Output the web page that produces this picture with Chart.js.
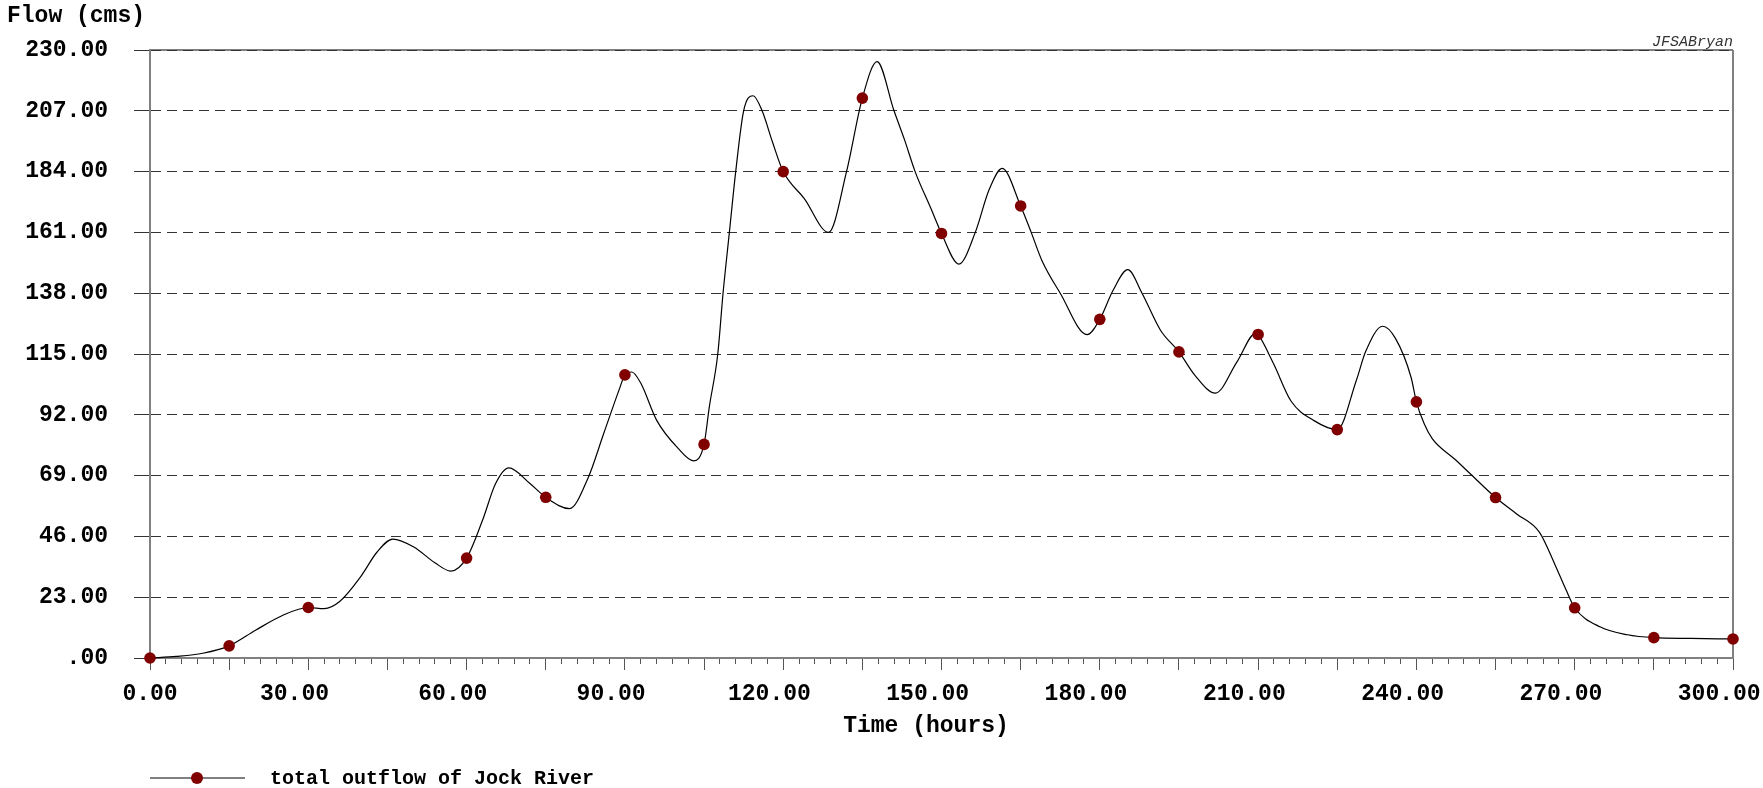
<!DOCTYPE html>
<html>
<head>
<meta charset="utf-8">
<script src="https://cdn.jsdelivr.net/npm/chart.js@4.4.1/dist/chart.umd.min.js"></script>
<style>
  html, body { margin: 0; padding: 0; background: #fff; }
  #wrap { width: 1763px; height: 788px; position: relative; }
</style>
</head>
<body>
<div id="wrap"><canvas id="chart" width="1763" height="788"></canvas></div>
<script>
// Simulated outflow hydrograph, Jock River (hours vs. cms)
const hours = [
  0, 5, 10, 15, 20, 25, 30, 33, 36, 40, 43, 46, 50, 54, 57, 60,
  63, 65.5, 68, 72, 75, 79.5, 83, 86, 89, 90, 91.3, 93, 96, 100, 103, 105,
  106, 107.6, 108.6, 109.8, 111, 112.5, 114.3, 116, 118, 120, 124, 128.6,
  132, 135, 137.8, 141, 143, 145, 148, 150, 153.3, 156.4, 159, 161.5,
  165, 167, 169, 172.5, 177.6, 180, 182.5, 185.3, 188, 191.5, 195, 198,
  201.9, 206, 209.6, 210, 213, 216.2, 220.6, 225, 228.6, 230.4, 233.6,
  236, 239, 240, 241.5, 243, 247.4, 250.3, 255, 259, 263.3, 266.2, 268.4, 270,
  274.9, 280, 285, 292, 300
];
const flow = [
  0, 0.6, 1.8, 4.6, 10.5, 16.0, 19.1, 18.7, 21.5, 31, 40, 45.0, 42, 36, 32.9, 37.8,
  52, 66, 71.9, 66, 60.8, 56.5, 68, 85, 102, 107.1, 108.2, 104, 90, 79.5, 74.6, 80.8,
  95, 115, 138, 161, 184, 207, 212.7, 207, 195, 184.0, 173.8, 161.0,
  184, 211.8, 225.6, 207, 196, 184, 170, 160.6, 149.0, 161, 177, 185.2,
  171.0, 161, 150.5, 138, 122.3, 128.1, 139, 146.9, 138, 124, 115.8, 107,
  100.2, 112, 123.0, 122.4, 111, 97.3, 89.8, 86.4, 104.9, 116, 125.5,
  121, 106.1, 96.9, 88.5, 83, 75, 69.5, 60.7, 54.5, 47.6, 35.6, 25.6, 19.0,
  11.7, 8.8, 7.7, 7.4, 7.2
];

const seriesName = 'total outflow of Jock River';
const yTitle = 'Flow (cms)';
const xTitle = 'Time (hours)';
const author = 'JFSABryan';

const markerEvery = 15;   // hours between plotted markers
const xMajorStep = 15;    // long tick marks
const xLabelStep = 30;    // labelled ticks
const xMinorStep = 3;     // short tick marks
const yStep = 23;
const xMin = 0, xMax = 300, yMin = 0, yMax = 230;

const FONT = '"Liberation Mono", "DejaVu Sans Mono", monospace';
const tickFont = { family: FONT, size: 23, weight: 'bold' };

// Frame, axis titles, signature and legend drawn around the plot
const decorations = {
  id: 'decorations',
  beforeDraw(chart) {
    const { ctx, chartArea: a } = chart;
    ctx.save();
    ctx.strokeStyle = '#808080';
    ctx.lineWidth = 2;
    ctx.beginPath();
    ctx.moveTo(a.left, a.top); ctx.lineTo(a.right, a.top);
    ctx.moveTo(a.right, a.top); ctx.lineTo(a.right, a.bottom);
    ctx.stroke();
    ctx.restore();
  },
  afterDraw(chart) {
    const { ctx, chartArea: a } = chart;
    const ds = chart.data.datasets[0];
    ctx.save();
    ctx.fillStyle = '#000';
    ctx.textBaseline = 'alphabetic';

    // y axis title, top-left
    ctx.font = 'bold 23px ' + FONT;
    ctx.textAlign = 'left';
    ctx.fillText(yTitle, 7, 22);

    // x axis title
    ctx.textAlign = 'center';
    ctx.fillText(xTitle, 926, 732);

    // signature above the top-right corner
    ctx.font = 'italic 15px ' + FONT;
    ctx.fillStyle = '#333';
    ctx.textAlign = 'right';
    ctx.fillText(author, a.right, 46);

    // legend: line with marker, then series name
    const ly = 778;
    ctx.strokeStyle = '#808080';
    ctx.lineWidth = 2;
    ctx.beginPath();
    ctx.moveTo(150, ly); ctx.lineTo(245, ly);
    ctx.stroke();
    ctx.fillStyle = ds.pointBackgroundColor;
    ctx.beginPath();
    ctx.arc(197, ly, 6, 0, Math.PI * 2);
    ctx.fill();
    ctx.fillStyle = '#000';
    ctx.font = 'bold 20px ' + FONT;
    ctx.textAlign = 'left';
    ctx.textBaseline = 'middle';
    ctx.fillText(seriesName, 270, ly + 1);
    ctx.restore();
  }
};

new Chart(document.getElementById('chart'), {
  type: 'line',
  data: {
    datasets: [{
      label: seriesName,
      data: hours.map((h, i) => ({ x: h, y: flow[i] })),
      xAxisID: 'x',
      yAxisID: 'y',
      borderColor: '#000',
      borderWidth: 1.2,
      cubicInterpolationMode: 'monotone',
      fill: false,
      clip: false,
      pointRadius: (c) => (hours[c.dataIndex] % markerEvery === 0 ? 5.8 : 0),
      pointHoverRadius: (c) => (hours[c.dataIndex] % markerEvery === 0 ? 5.8 : 0),
      pointBackgroundColor: '#800000',
      pointBorderColor: '#800000',
      pointBorderWidth: 0
    }]
  },
  options: {
    responsive: false,
    devicePixelRatio: 1,
    animation: false,
    events: [],
    layout: { padding: { top: 50, right: 30, left: 0, bottom: 0 } },
    plugins: { legend: { display: false }, tooltip: { enabled: false } },
    scales: {
      x: {
        type: 'linear',
        position: 'bottom',
        min: xMin, max: xMax,
        afterFit(s) { s.height = 130; s.paddingLeft = 0; s.paddingRight = 0; },
        afterBuildTicks(s) {
          s.ticks = [];
          for (let v = xMin; v <= xMax; v += xMajorStep) s.ticks.push({ value: v });
        },
        ticks: {
          autoSkip: false, maxRotation: 0, minRotation: 0,
          padding: 10,
          color: '#000',
          font: tickFont,
          // non-zero labels sit a character to the left of their tick
          callback: (v) => (v % xLabelStep !== 0 ? '' : v === 0 ? v.toFixed(2) : v.toFixed(2) + '  ')
        },
        grid: { drawOnChartArea: false, drawTicks: true, tickLength: 12, tickColor: '#555', tickWidth: 1 },
        border: { color: '#808080', width: 2 }
      },
      xMinor: {
        type: 'linear',
        position: { y: 0 },
        min: xMin, max: xMax,
        afterBuildTicks(s) {
          s.ticks = [];
          for (let v = xMin; v <= xMax; v += xMinorStep) s.ticks.push({ value: v });
        },
        afterFit(s) { s.paddingLeft = 0; s.paddingRight = 0; },
        ticks: { display: false, autoSkip: false },
        grid: { drawOnChartArea: false, drawTicks: true, tickLength: 6, tickColor: '#555', tickWidth: 1 },
        border: { display: false }
      },
      y: {
        type: 'linear',
        position: 'left',
        min: yMin, max: yMax,
        afterFit(s) { s.width = 150; s.paddingTop = 0; s.paddingBottom = 0; },
        afterBuildTicks(s) {
          s.ticks = [];
          for (let v = yMin; v <= yMax; v += yStep) s.ticks.push({ value: v });
        },
        ticks: {
          padding: 26,
          color: '#000',
          font: tickFont,
          callback: (v) => (v === 0 ? '.00' : v.toFixed(2))
        },
        grid: { color: '#333', lineWidth: 1, drawTicks: true, tickLength: 16, tickColor: '#333', tickWidth: 1, tickBorderDash: [] },
        border: { color: '#808080', width: 2, dash: [10, 6] }
      }
    }
  },
  plugins: [decorations]
});
</script>
</body>
</html>
